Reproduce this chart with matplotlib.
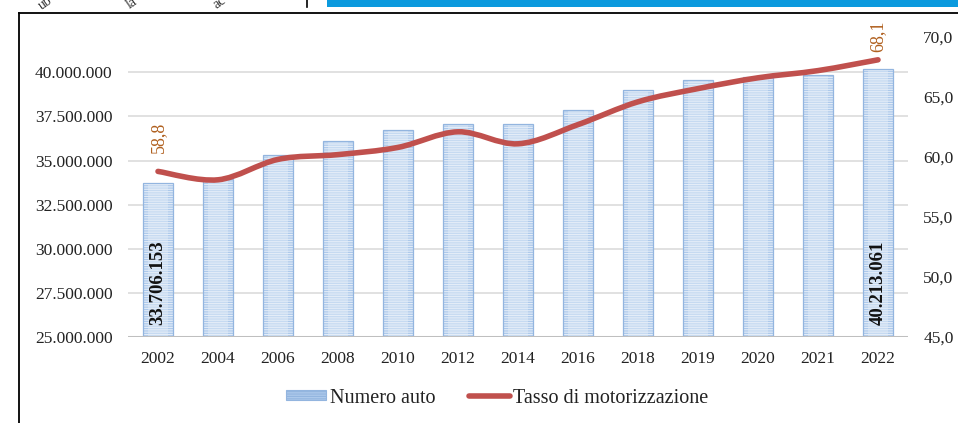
import numpy as np
import matplotlib
matplotlib.use('Agg')
import matplotlib.pyplot as plt
import matplotlib.ticker as mtick
from matplotlib.path import Path
from matplotlib.patches import PathPatch, Patch, Rectangle
from matplotlib.lines import Line2D

years = ['2002', '2004', '2006', '2008', '2010', '2012', '2014', '2016',
         '2018', '2019', '2020', '2021', '2022']
numero_auto = [33706153, 33973147, 35297282, 36105183, 36751311, 37078274, 37080753,
               37876138, 39018170, 39545232, 39717874, 39822723, 40213061]
tasso = [58.8, 58.1, 59.8, 60.2, 60.8, 62.1, 61.1, 62.7, 64.6, 65.7, 66.6, 67.2, 68.1]
labelled = [0, 12]

plt.rcParams['font.family'] = ['Liberation Serif', 'DejaVu Serif']
plt.rcParams['hatch.linewidth'] = 0.8

txt_col = '#222222'
red = '#c0504d'
lab_col = '#b0601f'
bar_face = '#adc9eb'
bar_edge = '#93b5df'

fig = plt.figure(figsize=(9.58, 4.23), dpi=100)
ax = fig.add_axes([128/958, 1-337/423, (908-128)/958, 300/423])
ax2 = ax.twinx()

x = np.arange(len(years))

# bars: darker outer fill, lighter middle, light stripes, edge
ax.bar(x, numero_auto, width=0.5, color=bar_face, linewidth=0, zorder=2)
ax.bar(x, numero_auto, width=0.32, color='#c6daf1', linewidth=0, zorder=2.5)
ax.bar(x, numero_auto, width=0.5, color='none', edgecolor='#e4edf8', hatch='-------',
       linewidth=0, zorder=3)
ax.bar(x, numero_auto, width=0.5, color='none', edgecolor=bar_edge, linewidth=0.9, zorder=4)

ax.set_xlim(-0.5, len(years) - 0.5)
ax.set_ylim(25000000, 42000000)
ax.set_yticks(np.arange(25000000, 40000001, 2500000))
ax.yaxis.set_major_formatter(mtick.FuncFormatter(lambda v, p: '{:,.0f}'.format(v).replace(',', '.')))
ax.set_xticks(x)
ax.set_xticklabels(years)
ax.grid(axis='y', color='#d9d9d9', linewidth=1.1, zorder=0)
ax.set_axisbelow(True)
ax.axhline(25000000, color='#bfbfbf', linewidth=2.2, zorder=5)
for s in ax.spines.values():
    s.set_visible(False)
ax.tick_params(axis='both', length=0, labelsize=12.5, colors=txt_col)
ax.tick_params(axis='y', pad=11)
ax.tick_params(axis='x', pad=10)

for i in labelled:
    ax.annotate('{:,}'.format(numero_auto[i]).replace(',', '.'), (x[i], 25000000),
                xytext=(0, 8.5), textcoords='offset points', rotation=90,
                ha='center', va='bottom', fontsize=13.5, fontweight='bold', color='#111111', zorder=6)

# smoothed line (catmull-rom as bezier segments)
pts = np.column_stack([x, tasso]).astype(float)
verts = [tuple(pts[0])]
codes = [Path.MOVETO]
n = len(pts)
for i in range(n - 1):
    p0 = pts[max(i - 1, 0)]
    p1 = pts[i]
    p2 = pts[i + 1]
    p3 = pts[min(i + 2, n - 1)]
    c1 = p1 + (p2 - p0) / 6
    c2 = p2 - (p3 - p1) / 6
    verts += [tuple(c1), tuple(c2), tuple(p2)]
    codes += [Path.CURVE4] * 3
ax2.add_patch(PathPatch(Path(verts, codes), fill=False, edgecolor=red, linewidth=4,
                        capstyle='round', joinstyle='round', zorder=5))

ax2.set_ylim(45, 70)
ax2.set_yticks(np.arange(45, 71, 5))
ax2.yaxis.set_major_formatter(mtick.FuncFormatter(lambda v, p: '{:.1f}'.format(v).replace('.', ',')))
for s in ax2.spines.values():
    s.set_visible(False)
ax2.tick_params(axis='y', length=0, labelsize=12.5, colors=txt_col, pad=11)

offs = {0: 13.5, 12: 5.5}
for i in labelled:
    ax2.annotate('{:.1f}'.format(tasso[i]).replace('.', ','), (x[i], tasso[i]),
                 xytext=(0, offs[i]), textcoords='offset points', rotation=90,
                 ha='center', va='bottom', fontsize=13, color=lab_col, annotation_clip=False)

handles = [Patch(facecolor=bar_face, edgecolor=bar_edge, hatch='-------', linewidth=0.8),
           Line2D([0], [0], color=red, linewidth=4, solid_capstyle='round')]
fig.legend(handles, ['Numero auto', 'Tasso di motorizzazione'], loc='center',
           bbox_to_anchor=(497/958, 1-398/423), ncol=2, frameon=False, fontsize=14.5,
           handlelength=2.0, handleheight=0.4, handletextpad=0.15, columnspacing=1.7,
           labelcolor=txt_col)

# page frame and header pieces from the source document
fig.add_artist(Line2D([19/958, 1], [1-13/423, 1-13/423], color='black', linewidth=1.3))
fig.add_artist(Line2D([19/958, 19/958], [0, 1-13/423], color='black', linewidth=1.3))
fig.add_artist(Rectangle((327/958, 1-7/423), 1-327/958, 7/423, color='#0b9ade', linewidth=0))
fig.add_artist(Line2D([307/958, 307/958], [1-7/423, 1], color='black', linewidth=1.2))
for xp, s in [(45, 'ub'), (132, 'la'), (220, 'ac')]:
    fig.text(xp/958, 1-3/423, s, rotation=35, fontsize=10, ha='center', va='center', color='#333333')

fig.savefig('out.png', dpi=100, facecolor='w')
